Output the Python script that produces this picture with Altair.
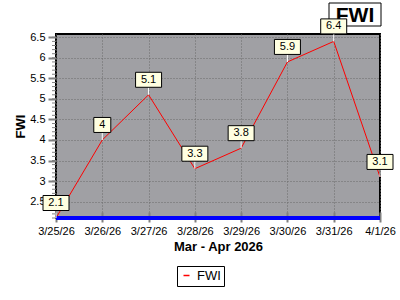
import altair as alt
import numpy as np
import pandas as pd

# ---- data ----
dates = ["3/25/26", "3/26/26", "3/27/26", "3/28/26", "3/29/26", "3/30/26", "3/31/26", "4/1/26"]
fwi = [2.1, 4.0, 5.1, 3.3, 3.8, 5.9, 6.4, 3.1]
series_name = "FWI"
title_text = "FWI"
x_title = "Mar - Apr 2026"
y_title = "FWI"
y_min, y_max = 2.1, 6.58
y_major = [2.5, 3.0, 3.5, 4.0, 4.5, 5.0, 5.5, 6.0, 6.5]
y_minor = [float(round(v, 1)) for v in np.arange(2.1, 6.51, 0.1)]

df = pd.DataFrame({"date": dates, "fwi": fwi, "series": [series_name] * len(dates)})
minor_df = pd.DataFrame({"fwi": y_minor})

FONT = "Liberation Sans"

x_axis = alt.Axis(
    title=x_title, labelAngle=0, labelFontSize=11, labelFont=FONT, labelColor="black",
    titleFont=FONT, titleFontSize=13, titleFontWeight="bold", titleColor="black",
    tickColor="#808080", tickWidth=2, tickSize=10, offset=-6, domain=False,
    grid=True, gridColor="#6a6a6a", gridDash=[1, 2], gridWidth=1,
    labelPadding=3, titlePadding=4,
)
y_axis = alt.Axis(
    values=y_major, title=y_title, format="~g",
    labelFontSize=11, labelFont=FONT, labelColor="black",
    titleFont=FONT, titleFontSize=13, titleFontWeight="bold", titleColor="black",
    titleX=-36, titleY=92, titleAngle=270, titleBaseline="middle", titleAlign="center",
    tickColor="#808080", tickSize=8, tickWidth=2,
    grid=True, gridColor="#6a6a6a", gridDash=[1, 2], gridWidth=1,
    domain=False, labelPadding=3,
)
x_scale = alt.Scale(type="point", padding=0)
y_scale = alt.Scale(domain=[y_min, y_max], nice=False, zero=False)

x_enc = alt.X("date:O", sort=dates, scale=x_scale, axis=x_axis)
y_enc = alt.Y("fwi:Q", scale=y_scale, axis=y_axis)

line = alt.Chart(df).mark_line(strokeWidth=1).encode(
    x=x_enc,
    y=y_enc,
    color=alt.Color(
        "series:N",
        scale=alt.Scale(domain=[series_name], range=["#ff0000"]),
        legend=alt.Legend(
            title=None, orient="none", legendX=121, legendY=232,
            symbolType="stroke", symbolSize=36, symbolStrokeWidth=1.5,
            labelFont=FONT, labelFontSize=13, labelColor="black", labelOffset=4,
            strokeColor="black", fillColor="white", padding=3,
        ),
    ),
)

minor_ticks = alt.Chart(minor_df).mark_tick(
    orient="horizontal", size=4, thickness=1, color="#808080", opacity=1
).encode(
    x=alt.value(-2),
    y=y_enc,
)

base_line = alt.Chart(df).mark_rule(color="#0000ff", strokeWidth=3).encode(
    y=alt.datum(y_min, scale=y_scale, axis=y_axis)
)

connectors = alt.Chart(df).mark_tick(
    orient="vertical", size=8, thickness=1, color="white", yOffset=-4, opacity=1
).encode(x=x_enc, y=y_enc)

labelled = alt.Chart(df).transform_calculate(
    label="format(datum.fwi, '.1~f')"
).transform_calculate(
    box="length(datum.label) > 1 ? 'M-1,-0.577L1,-0.577L1,0.577L-1,0.577Z' : 'M-0.654,-0.577L0.654,-0.577L0.654,0.577L-0.654,0.577Z'"
)

boxes = labelled.mark_point(
    filled=True, fill="#ffffe1", stroke="black", strokeWidth=1, opacity=1, size=676, yOffset=-15
).encode(
    x=x_enc, y=y_enc, shape=alt.Shape("box:N", scale=None)
)

texts = labelled.mark_text(
    font=FONT, fontSize=11, color="black", yOffset=-15, baseline="middle", align="center"
).encode(x=x_enc, y=y_enc, text="label:N")

tdf = pd.DataFrame({"t": [title_text]})
title_box = alt.Chart(tdf).mark_rect(fill="white", stroke="black", strokeWidth=1).encode(
    x=alt.value(273), x2=alt.value(325), y=alt.value(-31), y2=alt.value(-8)
)
title_mark = alt.Chart(tdf).mark_text(
    font=FONT, fontSize=21, fontWeight="bold", color="black", baseline="middle", align="center"
).encode(x=alt.value(299), y=alt.value(-18), text="t:N")

chart = alt.layer(
    line, minor_ticks, base_line, title_box, title_mark, connectors, boxes, texts
).properties(
    width=324, height=184,
    autosize=alt.AutoSizeParams(type="none"),
    padding={"left": 56, "top": 34, "right": 20, "bottom": 82},
    background="white",
).configure_view(
    fill="#a0a0a4", stroke="black", strokeWidth=2
)

chart.save("out.html", embed_options={"renderer": "svg", "actions": False})
